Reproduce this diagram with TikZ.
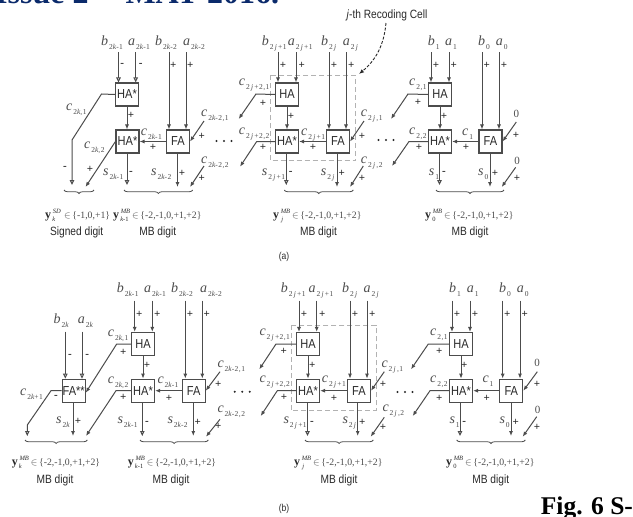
\documentclass[tikz,border=0pt]{standalone}
\usepackage{fontspec}
\setmainfont{Liberation Serif}
\newfontfamily\boxf[FakeStretch=.85]{Liberation Sans}
\newfontfamily\subf[LetterSpace=6]{Liberation Serif}
\usetikzlibrary{arrows.meta,decorations.pathreplacing}
\definecolor{ink}{HTML}{4C4C4C}
\definecolor{dark}{HTML}{2A2A2A}
\definecolor{navy}{HTML}{0B2A6B}
\newcount\tnum
\newcommand\KK{{\itshape k}}
\newcommand\JJ{{\itshape\,j\,}}
\newcommand\sigl[4]{\global\advance\tnum by 1\relax
  \node[siglab] (t\the\tnum) at (#1,#2) {\textit{#3}\raisebox{-4pt}{\hspace{1pt}\fontsize{7.5}{8}\subf #4}};}
\newcommand\plusm[2]{\global\advance\tnum by 1\relax \node[signmark] (t\the\tnum) at (#1,#2) {+};}
\newcommand\minusm[2]{\global\advance\tnum by 1\relax \node[signmark] (t\the\tnum) at (#1,#2) {-};}
\newcommand\zerol[2]{\global\advance\tnum by 1\relax \node[signmark,font=\fontsize{11}{11}\selectfont,text=ink] (t\the\tnum) at (#1,#2) {0};}
\newcommand\digitl[5]{\global\advance\tnum by 1\relax
  \node[digitlab] (t\the\tnum) at (#1,#2) {\fontsize{12}{12}\selectfont\textbf{y}\makebox[13pt][l]{\rlap{\raisebox{5pt}{\fontsize{6.5}{6.5}\selectfont\itshape\ #3}}\raisebox{-3.5pt}{\fontsize{6.5}{6.5}\selectfont\,#4}}{\fontsize{9.75}{10}\selectfont\textcolor{ink}{$\in$\,\{#5\}}}};}
\newcommand\captl[3]{\global\advance\tnum by 1\relax \node[caplab] (t\the\tnum) at (#1,#2) {#3};}
\newcommand\threedots[2]{\foreach \dx in {-7.5,0,7.5}{\fill[dark] (#1+\dx,#2) circle (1.1);}}
\tikzset{
  cellbox/.style={draw=ink,line width=1.1pt,fill=white,minimum width=23pt,minimum height=23pt,inner sep=0pt,text=dark,font=\boxf\fontsize{13}{13}\selectfont},
  siglab/.style={anchor=base west,inner sep=0pt,text=ink,font=\fontsize{14}{14}\selectfont},
  signmark/.style={inner sep=0pt,text=dark,font=\fontsize{11}{11}\selectfont\bfseries},
  digitlab/.style={anchor=base west,inner sep=0pt,text=dark},
  caplab/.style={inner sep=0pt,text=dark,font=\boxf\fontsize{12}{12}\selectfont},
  wirebase/.style={draw=ink,line width=1pt},
  poswire/.style={wirebase,-{Latex[length=5pt,width=4pt]}},
  negwire/.style={wirebase,-{Triangle[open,length=5pt,width=4.5pt]}},
  cellframe/.style={draw=black!30,line width=.8pt,dash pattern=on 5pt off 3pt},
  digitbrace/.style={draw=ink,line width=.8pt,decorate,decoration={brace,mirror,amplitude=3.5pt}},
}
\begin{document}
\begin{tikzpicture}[x=1pt,y=-1pt]
\useasboundingbox (0,0) rectangle (633,517);
\clip (0,0) rectangle (633,517);
\fill[white] (0,0) rectangle (633,517);
\node[anchor=base west,inner sep=0pt,text=navy,font=\fontsize{32}{32}\selectfont\bfseries] (hdr) at (-5,3.5) {Issue 2 – \hspace{5pt}MAY 2016.};
\node[anchor=base west,inner sep=0pt,text=black,font=\fontsize{25.5}{26}\selectfont\bfseries] (figc) at (540.7,514.3) {Fig. 6 S-};

% ===== panel (a) =====
\draw[cellframe] (270,75.3) rectangle (355.7,160.7);
\node[cellbox] (aH1) at (127,94.5) {HA*};
\node[cellbox] (aS1) at (127.5,141.5) {HA*};
\node[cellbox] (aF1) at (178,141.5) {FA};
\node[cellbox] (aH2) at (287,94.5) {HA};
\node[cellbox] (aS2) at (287,141.5) {HA*};
\node[cellbox] (aF2) at (338,141.5) {FA};
\node[cellbox] (aH3) at (440,94.5) {HA};
\node[cellbox] (aS3) at (440,141.5) {HA*};
\node[cellbox] (aF3) at (490.5,141.5) {FA};

\foreach \n/\x/\y in {aI1/118.5/52,aI2/135.7/52,aI3/169/52,aI4/186/52,aI5/278/52,aI6/296/52,aI7/329/52,aI8/346/52,aI9/431/52,aI10/449/52,aI11/482/52,aI12/499/52,
 aB1/101.5/94,aB2/72/140,aE1/72/185,aE2/85.5/187,aE3/127/185,aE4/177.5/187,aC1/204/121,aC2/204/166,aE5/190/187,
 aB3/256/94,aE6/238.7/119,aB4/256.7/141.5,aE7/240/166.7,aE8/286.3/185,aE9/337/187,aC3/364/121,aC4/363.3/166,aE10/350/187,
 aB5/408/94,aE11/391/119,aB6/409/141.5,aE12/392/166,aE13/439.5/185,aE14/490/187,aC5/516.3/122,aC6/515.7/167.3,aE15/501.7/187,
 aJ1/386/23,aJ2/359/74}{\coordinate (\n) at (\x,\y);}

\draw[negwire] (aI1) -- (aI1 |- aH1.north);
\draw[negwire] (aI2) -- (aI2 |- aH1.north);
\draw[poswire] (aI3) -- (aI3 |- aF1.north);
\draw[poswire] (aI4) -- (aI4 |- aF1.north);
\draw[poswire] (aI5) -- (aI5 |- aH2.north);
\draw[poswire] (aI6) -- (aI6 |- aH2.north);
\draw[poswire] (aI7) -- (aI7 |- aF2.north);
\draw[poswire] (aI8) -- (aI8 |- aF2.north);
\draw[poswire] (aI9) -- (aI9 |- aH3.north);
\draw[poswire] (aI10) -- (aI10 |- aH3.north);
\draw[poswire] (aI11) -- (aI11 |- aF3.north);
\draw[poswire] (aI12) -- (aI12 |- aF3.north);

\draw[negwire] (aH1.west) -- (aB1) -- (aB2) -- (aE1);
\draw[poswire] (aS1.west) -- (aE2);
\draw[poswire] (aH1.south) -- (aS1.north -| aH1.south);
\draw[poswire] (aF1.west) -- (aS1.east);
\draw[negwire] (aE3 |- aS1.south) -- (aE3);
\draw[poswire] (aE4 |- aF1.south) -- (aE4);
\draw[poswire] (aC1) -- (aF1.east);
\draw[poswire] (aC2) -- (aE5);

\draw[poswire] (aH2.west) -- (aB3) -- (aE6);
\draw[poswire] (aS2.west) -- (aB4) -- (aE7);
\draw[poswire] (aH2.south) -- (aS2.north);
\draw[poswire] (aF2.west) -- (aS2.east);
\draw[negwire] (aE8 |- aS2.south) -- (aE8);
\draw[poswire] (aE9 |- aF2.south) -- (aE9);
\draw[poswire] (aC3) -- (aF2.east);
\draw[poswire] (aC4) -- (aE10);

\draw[poswire] (aH3.west) -- (aB5) -- (aE11);
\draw[poswire] (aS3.west) -- (aB6) -- (aE12);
\draw[poswire] (aH3.south) -- (aS3.north);
\draw[poswire] (aF3.west) -- (aS3.east);
\draw[negwire] (aE13 |- aS3.south) -- (aE13);
\draw[poswire] (aE14 |- aF3.south) -- (aE14);
\draw[poswire] (aC5) -- (aF3.east);
\draw[poswire] (aC6) -- (aE15);

\draw[dark,line width=.9pt,dash pattern=on 3pt off 1.6pt,-{Latex[length=5pt,width=4pt]}] (aJ1) .. controls (384,45) and (376,60) .. (aJ2);
\node[caplab] (aJ) at (387,15.7) {\textit{j}-th Recoding Cell};

\foreach \m/\x/\y in {a/64/94,b/124/192.7,c/284.3/353.3,d/436/504}{\coordinate (aBL\m) at (\x,190); \coordinate (aBR\m) at (\y,190); \draw[digitbrace] (aBL\m) -- (aBR\m);}

\sigl{101}{45}{b}{2\KK-1} \sigl{128}{45}{a}{2\KK-1} \sigl{155}{45}{b}{2\KK-2} \sigl{183}{45}{a}{2\KK-2}
\sigl{261.7}{45}{b}{2\JJ+1} \sigl{287.7}{45}{a}{2\JJ+1} \sigl{321}{45}{b}{2\JJ} \sigl{342.7}{45}{a}{2\JJ}
\sigl{427.7}{45}{b}{1} \sigl{445}{45}{a}{1} \sigl{478}{45}{b}{0} \sigl{495.7}{45}{a}{0}
\sigl{66}{110.7}{c}{2\KK,1} \sigl{84}{148}{c}{2\KK,2} \sigl{140.7}{135}{c}{2\KK-1} \sigl{201}{116.7}{c}{2\KK-2,1} \sigl{201}{163}{c}{2\KK-2,2}
\sigl{103}{175}{s}{2\KK-1} \sigl{151}{175}{s}{2\KK-2}
\sigl{238.7}{85}{c}{2\JJ+2,1} \sigl{238.7}{134}{c}{2\JJ+2,2} \sigl{301}{135}{c}{2\JJ+1} \sigl{360.7}{116.7}{c}{2\JJ,1} \sigl{360.7}{163}{c}{2\JJ,2}
\sigl{261.7}{175}{s}{2\JJ+1} \sigl{320.7}{175}{s}{2\JJ}
\sigl{409}{85}{c}{2,1} \sigl{409}{134}{c}{2,2} \sigl{462}{135}{c}{1} \sigl{428.7}{175}{s}{1} \sigl{478}{175}{s}{0}
\zerol{516.3}{113.7} \zerol{517}{160.5}

\minusm{122.3}{65} \minusm{140.7}{65}
\foreach \x in {173.3,190.3,283,301.7,334,351.3,436,453.7,486.7,504}{\plusm{\x}{65}}
\plusm{131}{115} \plusm{291}{116} \plusm{444}{116}
\plusm{153}{147} \plusm{313}{147} \plusm{466}{147}
\plusm{263}{103} \plusm{263}{147} \plusm{418}{102} \plusm{419}{147}
\minusm{65}{168} \plusm{90}{169} \minusm{131}{173} \plusm{182}{173} \plusm{201.7}{136} \plusm{201.7}{178}
\minusm{290.7}{173} \plusm{341.7}{173} \plusm{362}{136} \plusm{362}{178}
\minusm{444}{173} \plusm{495}{173} \plusm{516}{135} \plusm{517}{178}

\threedots{224}{141}
\threedots{386}{140}

\digitl{45}{218}{SD}{\KK}{-1,0,+1}
\digitl{113}{218}{MB}{\KK-1}{-2,-1,0,+1,+2}
\digitl{273}{218}{MB}{\JJ}{-2,-1,0,+1,+2}
\digitl{425}{218}{MB}{0}{-2,-1,0,+1,+2}
\captl{76.7}{232.7}{Signed digit}
\captl{157.7}{232.7}{MB digit}
\captl{318.5}{232.7}{MB digit}
\captl{470}{232.7}{MB digit}
\node[caplab,font=\boxf\fontsize{10}{10}\selectfont] (acap) at (284,257) {(a)};

% ===== panel (b) =====
\draw[cellframe] (291,325) rectangle (376,410.7);
\node[cellbox] (bX) at (73.7,390.7) {FA**};
\node[cellbox] (bH1) at (143,344) {HA};
\node[cellbox] (bS1) at (143,390.7) {HA*};
\node[cellbox] (bF1) at (193.7,390.7) {FA};
\node[cellbox] (bH2) at (308,344) {HA};
\node[cellbox] (bS2) at (308,390.7) {HA*};
\node[cellbox] (bF2) at (359,390.7) {FA};
\node[cellbox] (bH3) at (461,344) {HA};
\node[cellbox] (bS3) at (461,390.7) {HA*};
\node[cellbox] (bF3) at (511.3,390.7) {FA};

\foreach \n/\x/\y in {bI0/65.3/331.7,bI00/82/331.7,bI1/134.7/300.7,bI2/152.3/300.7,bI3/185.3/300.7,bI4/202.3/300.7,bI5/299/300.7,bI6/316.7/300.7,bI7/350/300.7,bI8/367/300.7,bI9/452/300.7,bI10/470/300.7,bI11/502.7/300.7,bI12/520/300.7,
 bB1/51/390.7,bB2/27.3/425,bE1/27.3/436,bB3/116.7/344,bB4/116/390.7,bE2/86/436,bE0/73/436,bE3/142.3/436,bE4/193.3/436,bC1/220/371.7,bC2/220/419.3,bE5/206/436.7,
 bB5/276/344,bE6/259.3/369.3,bB6/277.3/390.7,bE7/260.7/416,bE8/307.5/436,bE9/357.7/436,bC3/384.3/371.7,bC4/384.3/417.3,bE10/370.7/436.7,
 bB7/428.3/344,bE11/411/369.3,bB8/430/390.7,bE12/412.7/416,bE13/460/436,bE14/511/436,bC5/537.3/371.7,bC6/536.7/416.7,bE15/522.7/436.7}{\coordinate (\n) at (\x,\y);}

\draw[negwire] (bI0) -- (bI0 |- bX.north);
\draw[negwire] (bI00) -- (bI00 |- bX.north);
\draw[poswire] (bI1) -- (bI1 |- bH1.north);
\draw[poswire] (bI2) -- (bI2 |- bH1.north);
\draw[poswire] (bI3) -- (bI3 |- bF1.north);
\draw[poswire] (bI4) -- (bI4 |- bF1.north);
\draw[poswire] (bI5) -- (bI5 |- bH2.north);
\draw[poswire] (bI6) -- (bI6 |- bH2.north);
\draw[poswire] (bI7) -- (bI7 |- bF2.north);
\draw[poswire] (bI8) -- (bI8 |- bF2.north);
\draw[poswire] (bI9) -- (bI9 |- bH3.north);
\draw[poswire] (bI10) -- (bI10 |- bH3.north);
\draw[poswire] (bI11) -- (bI11 |- bF3.north);
\draw[poswire] (bI12) -- (bI12 |- bF3.north);

\draw[negwire] (bX.west) -- (bB1) -- (bB2) -- (bE1);
\draw[poswire] (bH1.west) -- (bB3) -- ([yshift=-2pt]bX.east);
\draw[poswire] (bS1.west) -- (bB4) -- (bE2);
\draw[poswire] (bE0 |- bX.south) -- (bE0);
\draw[poswire] (bH1.south) -- (bS1.north);
\draw[poswire] (bF1.west) -- (bS1.east);
\draw[negwire] (bE3 |- bS1.south) -- (bE3);
\draw[poswire] (bE4 |- bF1.south) -- (bE4);
\draw[poswire] (bC1) -- (bF1.east);
\draw[poswire] (bC2) -- (bE5);

\draw[poswire] (bH2.west) -- (bB5) -- (bE6);
\draw[poswire] (bS2.west) -- (bB6) -- (bE7);
\draw[poswire] (bH2.south) -- (bS2.north);
\draw[poswire] (bF2.west) -- (bS2.east);
\draw[negwire] (bE8 |- bS2.south) -- (bE8);
\draw[poswire] (bE9 |- bF2.south) -- (bE9);
\draw[poswire] (bC3) -- (bF2.east);
\draw[poswire] (bC4) -- (bE10);

\draw[poswire] (bH3.west) -- (bB7) -- (bE11);
\draw[poswire] (bS3.west) -- (bB8) -- (bE12);
\draw[poswire] (bH3.south) -- (bS3.north);
\draw[poswire] (bF3.west) -- (bS3.east);
\draw[negwire] (bE13 |- bS3.south) -- (bE13);
\draw[poswire] (bE14 |- bF3.south) -- (bE14);
\draw[poswire] (bC5) -- (bF3.east);
\draw[poswire] (bC6) -- (bE15);

\foreach \m/\x/\y in {a/25/87.3,b/140/208.3,c/305/373.3,d/456.7/525.3}{\coordinate (bBL\m) at (\x,440); \coordinate (bBR\m) at (\y,440); \draw[digitbrace] (bBL\m) -- (bBR\m);}

\sigl{53.3}{323.3}{b}{2\KK} \sigl{77.7}{323.3}{a}{2\KK}
\sigl{116.7}{292.7}{b}{2\KK-1} \sigl{144}{292.7}{a}{2\KK-1} \sigl{171}{292.7}{b}{2\KK-2} \sigl{200}{292.7}{a}{2\KK-2}
\sigl{280.7}{292.7}{b}{2\JJ+1} \sigl{308.3}{292.7}{a}{2\JJ+1} \sigl{342}{292.7}{b}{2\JJ} \sigl{363.3}{292.7}{a}{2\JJ}
\sigl{449}{292.7}{b}{1} \sigl{466.7}{292.7}{a}{1} \sigl{499}{292.7}{b}{0} \sigl{516.7}{292.7}{a}{0}
\sigl{20}{395}{c}{2\KK+1} \sigl{107.7}{336}{c}{2\KK,1} \sigl{107.7}{383.3}{c}{2\KK,2} \sigl{157.3}{383.3}{c}{2\KK-1}
\sigl{217.3}{367.3}{c}{2\KK-2,1} \sigl{217.3}{412.7}{c}{2\KK-2,2}
\sigl{56}{423.3}{s}{2\KK} \sigl{117.3}{423.3}{s}{2\KK-1} \sigl{167.3}{423.3}{s}{2\KK-2}
\sigl{259.3}{335}{c}{2\JJ+2,1} \sigl{259.3}{382.7}{c}{2\JJ+2,2} \sigl{321.7}{382.7}{c}{2\JJ+1} \sigl{381.3}{367.3}{c}{2\JJ,1} \sigl{382.3}{411.7}{c}{2\JJ,2}
\sigl{283.3}{423}{s}{2\JJ+1} \sigl{342.3}{423}{s}{2\JJ}
\sigl{430}{335}{c}{2,1} \sigl{430}{382.7}{c}{2,2} \sigl{482.3}{382.7}{c}{1} \sigl{449.3}{423}{s}{1} \sigl{499.3}{423}{s}{0}
\zerol{537}{363.3} \zerol{537.7}{410}

\minusm{70}{355.7} \minusm{87.3}{355.7}
\foreach \x in {139.3,157.3,190,206.7,304,322.3,355,372.3,457,475,507.3,524.7}{\plusm{\x}{314.3}}
\minusm{56}{396.7} \plusm{123.3}{352.3} \plusm{123.3}{397.7} \plusm{78}{421.7}
\plusm{147}{365.7} \plusm{169}{398.3} \minusm{147}{422.7} \plusm{197.7}{422.7} \plusm{218.3}{384.3} \plusm{218.3}{426}
\plusm{283.7}{351.7} \plusm{284}{397.7} \plusm{312.3}{365.7} \plusm{334}{398} \minusm{312}{422.7} \plusm{362.3}{422.7} \plusm{383}{384.3} \plusm{383}{427}
\plusm{439.3}{351.7} \plusm{439.3}{398} \plusm{464.3}{365.7} \plusm{486.7}{398} \minusm{464.3}{422.7} \plusm{515.7}{422.7} \plusm{537}{384} \plusm{537}{427}

\threedots{242.3}{391.7}
\threedots{405}{392}

\digitl{11.7}{465}{MB}{\KK}{-2,-1,0,+1,+2}
\digitl{127.7}{465}{MB}{\KK-1}{-2,-1,0,+1,+2}
\digitl{294}{465}{MB}{\JJ}{-2,-1,0,+1,+2}
\digitl{446}{465}{MB}{0}{-2,-1,0,+1,+2}
\captl{55}{480.7}{MB digit}
\captl{171}{480.7}{MB digit}
\captl{339}{480.7}{MB digit}
\captl{490.7}{480.7}{MB digit}
\node[caplab,font=\boxf\fontsize{10}{10}\selectfont] (bcap) at (284,509) {(b)};
\end{tikzpicture}
\end{document}
